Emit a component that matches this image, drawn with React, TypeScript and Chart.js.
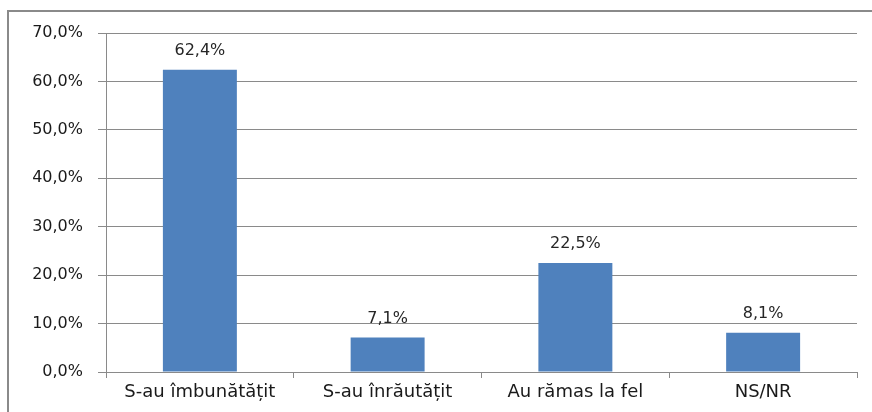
import React, { useEffect, useRef } from "react";
import { Chart, registerables } from "chart.js";

Chart.register(...registerables);

const categories = ["S-au îmbunătățit", "S-au înrăutățit", "Au rămas la fel", "NS/NR"];
const values = [62.4, 7.1, 22.5, 8.1];
const yTicks = [0, 10, 20, 30, 40, 50, 60, 70];

const fmt = (v: number) => v.toFixed(1).replace(".", ",") + "%";

const labelPlugin = {
  id: "barLabels",
  afterDatasetsDraw(chart: any) {
    const ctx = chart.ctx;
    const meta = chart.getDatasetMeta(0);
    ctx.save();
    ctx.font = "16px 'DejaVu Sans'";
    ctx.fillStyle = "#262626";
    ctx.textAlign = "center";
    ctx.textBaseline = "middle";
    meta.data.forEach((bar: any, i: number) => {
      ctx.fillText(fmt(values[i]), bar.x, bar.y - 19);
    });
    ctx.restore();
  },
};

export default function App() {
  const ref = useRef<HTMLCanvasElement>(null);
  useEffect(() => {
    document.body.style.margin = "0";
    document.body.style.overflow = "hidden";
    const chart = new Chart(ref.current!, {
      type: "bar",
      data: {
        labels: categories,
        datasets: [
          {
            data: values,
            backgroundColor: "#4F81BD",
            borderWidth: 0,
            categoryPercentage: 1,
            barPercentage: 0.394,
          },
        ],
      },
      options: {
        animation: false,
        responsive: false,
        maintainAspectRatio: false,
        layout: { padding: { left: 0, top: 33, right: 15, bottom: 0 } },
        plugins: { legend: { display: false }, tooltip: { enabled: false } },
        scales: {
          x: {
            grid: {
              offset: true,
              drawOnChartArea: false,
              drawTicks: true,
              tickLength: 6,
              color: "#8a8a8a",
            },
            border: { display: true, color: "#8a8a8a" },
            ticks: {
              font: { family: "'DejaVu Sans'", size: 18 },
              color: "#1a1a1a",
              padding: 4,
              maxRotation: 0,
              autoSkip: false,
            },
            afterFit: (s: any) => {
              s.height = 40;
            },
          },
          y: {
            min: 0,
            max: 70,
            afterBuildTicks: (s: any) => {
              s.ticks = yTicks.map((v) => ({ value: v }));
            },
            grid: { color: "#8a8a8a", tickLength: 8 },
            border: { display: true, color: "#8a8a8a" },
            ticks: {
              font: { family: "'DejaVu Sans'", size: 16 },
              color: "#1a1a1a",
              padding: 15,
              callback: (v: any) => fmt(Number(v)),
            },
            afterFit: (s: any) => {
              s.width = 106;
            },
          },
        },
      },
      plugins: [labelPlugin],
    });
    return () => chart.destroy();
  }, []);
  return (
    <div style={{ position: "relative", width: 872, height: 412, overflow: "hidden", background: "#fff" }}>
      <div
        style={{
          position: "absolute",
          left: 7,
          top: 10,
          width: 900,
          height: 450,
          border: "2px solid #8a8a8a",
          boxSizing: "border-box",
        }}
      />
      <canvas ref={ref} width={872} height={412} style={{ position: "absolute", left: 0, top: 0 }} />
    </div>
  );
}
